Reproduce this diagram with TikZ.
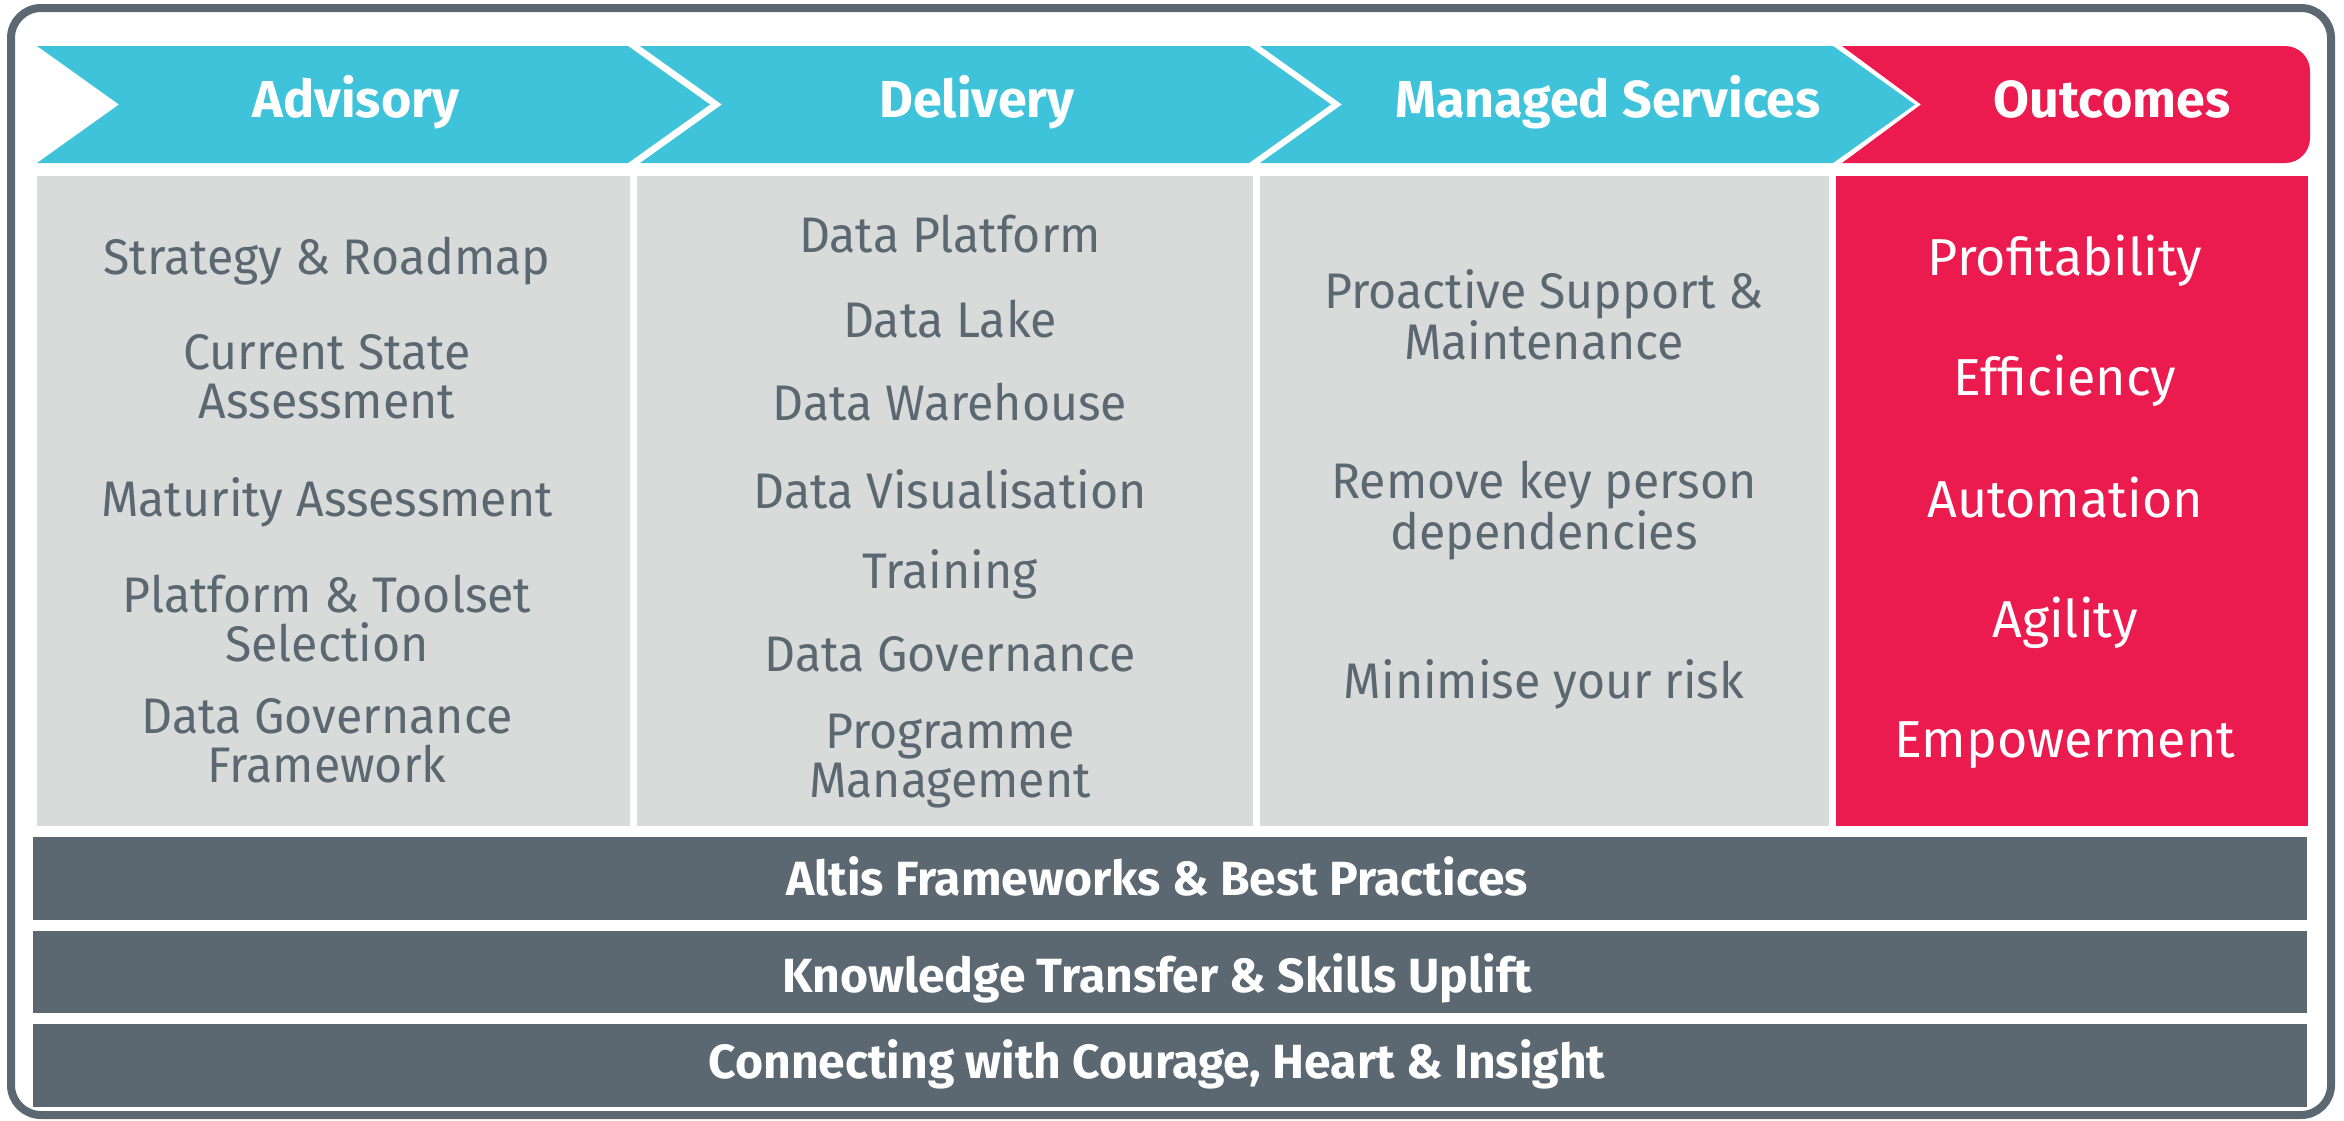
\documentclass[tikz,border=0pt]{standalone}
\usepackage{fontspec}
\setmainfont{Fira Sans}
\newfontfamily\itemfont[FakeStretch=0.965]{Fira Sans}
\definecolor{altcyan}{RGB}{62,195,218}
\definecolor{altred}{RGB}{235,27,79}
\definecolor{altgrey}{RGB}{217,219,218}
\definecolor{altslate}{RGB}{92,104,113}

\begin{document}
\begin{tikzpicture}[x=1pt,y=-1pt,
  head/.style={anchor=base,text=white,font=\bfseries\fontsize{52}{56}\selectfont},
  item/.style={anchor=base,text=altslate,align=center,font=\itemfont\fontsize{50}{49}\selectfont},
  outc/.style={anchor=base,text=white,font=\fontsize{52}{52}\selectfont},
  band/.style={anchor=base,text=white,font=\bfseries\fontsize{48}{52}\selectfont}]
\useasboundingbox (0,0) rectangle (2344,1120);
\draw [altslate,line width=8pt,rounded corners=30] (11,8) rectangle (2331,1115);
\foreach \a/\b in {37/628,640/1249,1260/1833}
  \fill [altcyan] (\a,46) -- (\b,46) -- (\b+82,104.5) -- (\b,163) -- (\a,163) -- (\a+82,104.5) -- cycle;
\fill [altred] (1842,46) -- (2285,46) arc [start angle=-90,end angle=0,radius=25]
  -- (2310,138) arc [start angle=0,end angle=90,radius=25] -- (1842,163) -- (1921,104.5) -- cycle;
\fill [altgrey] (37,176) rectangle (630,826);
\fill [altgrey] (637,176) rectangle (1253,826);
\fill [altgrey] (1260,176) rectangle (1829,826);
\fill [altred] (1836,176) rectangle (2308,826);
\foreach \t/\u in {837/920,931/1013,1024/1107}
  \fill [altslate] (33,\t) rectangle (2307,\u);
\node [head] (hadv) at (356,117) {Advisory};
\node [head] (hdel) at (977,117) {Delivery};
\node [head] (hman) at (1608,117) {Managed Services};
\node [head] (hout) at (2112,117) {Outcomes};
\node [item] (strat) at (327,274) {Strategy \& Roadmap};
\node [item] (curr) at (327,418) {Current State\\Assessment};
\node [item] (matur) at (327,516) {Maturity Assessment};
\node [item] (tools) at (327,661) {Platform \& Toolset\\Selection};
\node [item] (govfw) at (327,782) {Data Governance\\Framework};
\node [item] (plat) at (950,252) {Data Platform};
\node [item] (lake) at (950,337) {Data Lake};
\node [item] (wareh) at (950,420) {Data Warehouse};
\node [item] (visu) at (950,508) {Data Visualisation};
\node [item] (train) at (950,588) {Training};
\node [item] (gov) at (950,671) {Data Governance};
\node [item] (prog) at (950,797) {Programme\\Management};
\node [item] (supp) at (1544,359) {Proactive Support \&\\Maintenance};
\node [item] (keyp) at (1544,549) {Remove key person\\dependencies};
\node [item] (risk) at (1544,698) {Minimise your risk};
\node [outc] (profit) at (2065,275) {Profitability};
\node [outc] (effic) at (2065,395) {Efficiency};
\node [outc] (autom) at (2065,517) {Automation};
\node [outc] (agil) at (2065,637) {Agility};
\node [outc] (empow) at (2065,757) {Empowerment};
\node [band] (frame) at (1157,895) {Altis Frameworks \& Best Practices};
\node [band] (skill) at (1157,992) {Knowledge Transfer \& Skills Uplift};
\node [band] (heart) at (1157,1078) {Connecting with Courage, Heart \& Insight};
\end{tikzpicture}
\end{document}
